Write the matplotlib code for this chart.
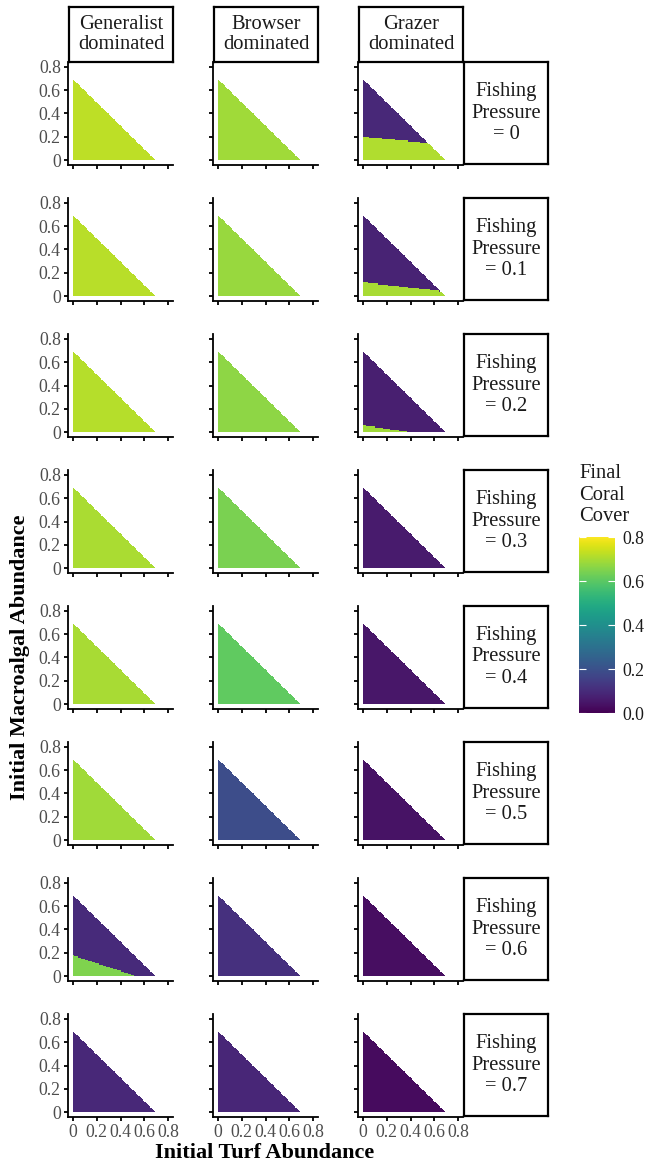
import numpy as np
import matplotlib
matplotlib.use("Agg")
import matplotlib.pyplot as plt

plt.rcParams['font.family'] = ['Liberation Serif', 'DejaVu Serif']

# fishing pressure per row, herbivore scenario per column
fishing = [0, 0.1, 0.2, 0.3, 0.4, 0.5, 0.6, 0.7]
scenarios = ["Generalist\ndominated", "Browser\ndominated", "Grazer\ndominated"]

# final coral cover above the basin boundary (high macroalgae start)
gen_upper = [0.72, 0.715, 0.71, 0.70, 0.695, 0.685, 0.095, 0.09]
bro_upper = [0.685, 0.675, 0.665, 0.64, 0.605, 0.185, 0.11, 0.085]
gra_upper = [0.088, 0.078, 0.068, 0.058, 0.048, 0.038, 0.03, 0.022]
# final coral cover below the basin boundary (low macroalgae start)
gen_lower = [0.72, 0.715, 0.71, 0.70, 0.695, 0.685, 0.645, 0.09]
bro_lower = bro_upper
gra_lower = [0.705, 0.695, 0.685, 0.058, 0.048, 0.038, 0.03, 0.022]
# basin boundary: macroalgae height at turf = 0 and slope along turf
gen_h0 = [0, 0, 0, 0, 0, 0, 0.18, 0]
gen_slope = [0, 0, 0, 0, 0, 0, -0.34, 0]
bro_h0 = [0] * 8
bro_slope = [0] * 8
gra_h0 = [0.20, 0.12, 0.06, 0, 0, 0, 0, 0]
gra_slope = [-0.093, -0.117, -0.15, 0, 0, 0, 0, 0]

upper = [gen_upper, bro_upper, gra_upper]
lower = [gen_lower, bro_lower, gra_lower]
h0 = [gen_h0, bro_h0, gra_h0]
slope = [gen_slope, bro_slope, gra_slope]

# initial condition grid (turf x macroalgae), step 0.01
step = 0.01
edges = np.round(np.arange(0, 0.70 + step / 2, step), 2)
cx = edges[:-1] + step / 2
TX, MY = np.meshgrid(edges[:-1], edges[:-1])
CX, CY = np.meshgrid(cx, cx)
inside = (TX + MY) < 0.69 - 1e-9

W, H = 647, 1164
fig = plt.figure(figsize=(W / 100, H / 100), dpi=100)

def rect(left, top, w, h):
    return [left / W, 1 - (top + h) / H, w / W, h / H]

grey30 = "#4d4d4d"
ticks = [0, 0.2, 0.4, 0.6, 0.8]
ticklabs = ["0", "0.2", "0.4", "0.6", "0.8"]

for r in range(8):
    for c in range(3):
        ax = fig.add_axes(rect(68 + 145 * c, 62 + 136 * r, 105, 103))
        bnd = h0[c][r] + slope[c][r] * CX
        z = np.where(CY < bnd, lower[c][r], upper[c][r])
        z = np.ma.masked_where(~inside, z)
        ax.pcolormesh(edges, edges, z, cmap="viridis", vmin=0, vmax=0.8,
                      antialiased=False, linewidth=0, rasterized=True)
        ax.set_xlim(-0.04, 0.84)
        ax.set_ylim(-0.04, 0.84)
        for s in ["top", "right"]:
            ax.spines[s].set_visible(False)
        for s in ["left", "bottom"]:
            ax.spines[s].set_linewidth(1.3)
        ax.set_xticks(ticks)
        ax.set_yticks(ticks)
        ax.tick_params(length=3.2, width=1.3, color="black", labelsize=12.8,
                       labelcolor=grey30, pad=2)
        ax.set_xticklabels(ticklabs if r == 7 else [])
        ax.set_yticklabels(ticklabs if c == 0 else [])

        # column strips
        if r == 0:
            sx = fig.add_axes(rect(69 + 145 * c, 7, 104, 55))
            sx.set_xticks([]); sx.set_yticks([])
            for s in sx.spines.values():
                s.set_linewidth(1.6)
            sx.text(0.5, 0.5, scenarios[c], ha="center", va="center",
                    fontsize=14.8, color="#1a1a1a", linespacing=1.08,
                    transform=sx.transAxes)
    # row strips
    sy = fig.add_axes(rect(464, 62 + 136 * r, 84, 102))
    sy.set_xticks([]); sy.set_yticks([])
    for s in sy.spines.values():
        s.set_linewidth(1.6)
    sy.text(0.5, 0.5, "Fishing\nPressure\n= %g" % fishing[r], ha="center",
            va="center", fontsize=14.8, color="#1a1a1a", linespacing=1.18,
            transform=sy.transAxes)

fig.text(265 / W, 1 - 1153 / H, "Initial Turf Abundance", ha="center",
         va="center", fontsize=16, fontweight="bold")
fig.text(20 / W, 1 - 657 / H, "Initial Macroalgal Abundance", ha="center",
         va="center", rotation=90, fontsize=16, fontweight="bold")

# colour bar
cax = fig.add_axes(rect(579, 537, 36, 176))
grad = np.linspace(0, 0.8, 300).reshape(-1, 1)
cax.imshow(grad, aspect="auto", cmap="viridis", vmin=0, vmax=0.8,
           origin="lower", extent=[0, 1, 0, 0.8])
cax.set_xlim(0, 1)
cax.set_ylim(0, 0.8)
for s in cax.spines.values():
    s.set_visible(False)
cax.set_xticks([])
cax.set_yticks(ticks)
cax.set_yticklabels(["0.0", "0.2", "0.4", "0.6", "0.8"])
cax.yaxis.tick_right()
cax.tick_params(axis="y", direction="in", length=5, width=0.8, color="white",
                left=True, right=True, labelsize=12.8, labelcolor="#1a1a1a", pad=5)
fig.text(579 / W, 1 - 495 / H, "Final\nCoral\nCover", ha="left", va="center",
         fontsize=14.8, color="#1a1a1a", linespacing=1.18)

fig.savefig("out.png", dpi=100, facecolor="white")
